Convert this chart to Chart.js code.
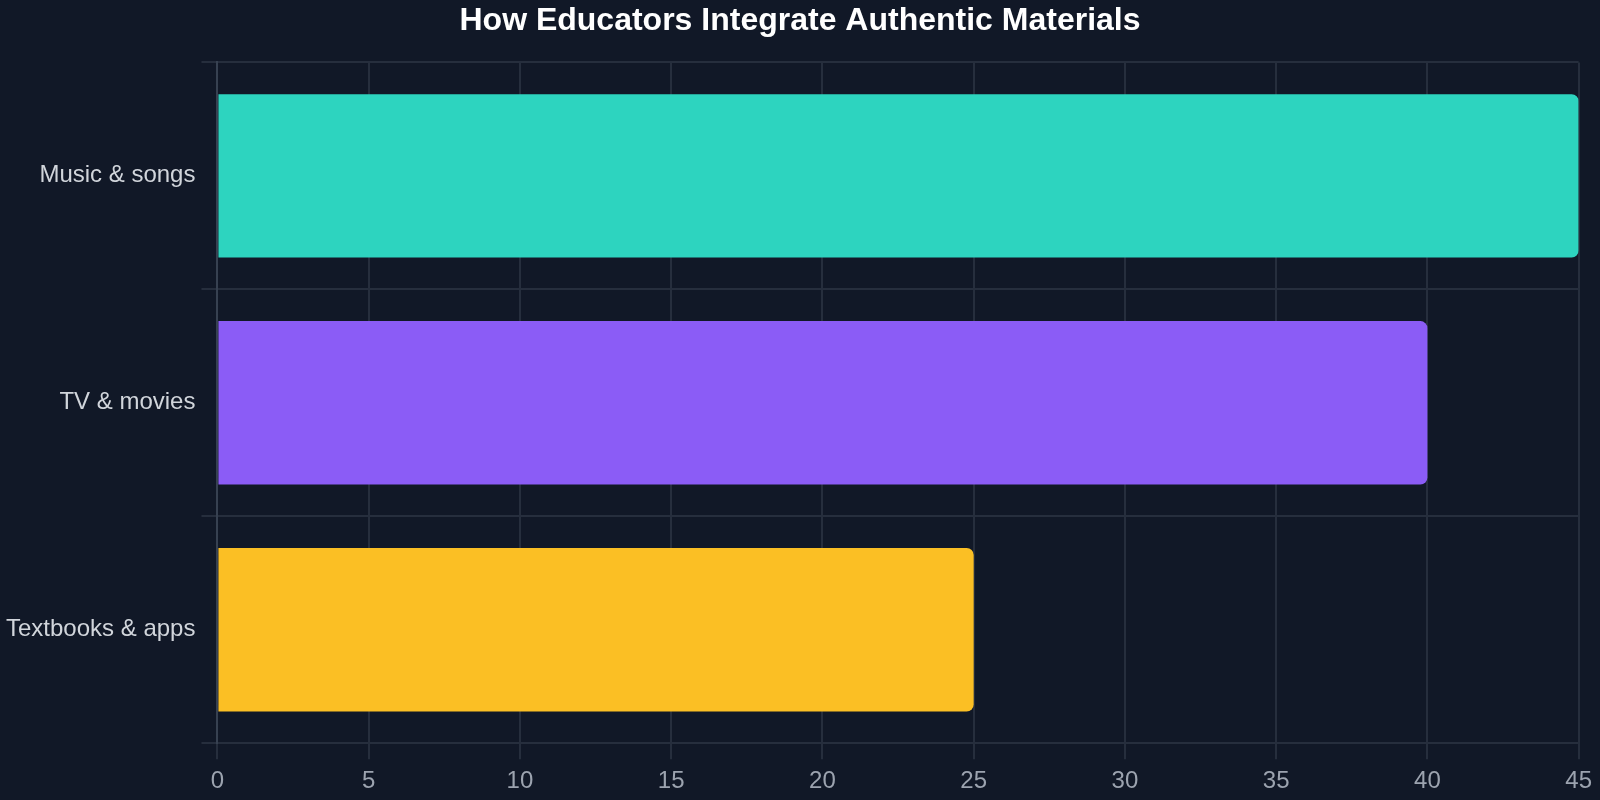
<!DOCTYPE html>
<html>
<head>
<meta charset="utf-8">
<script src="https://cdn.jsdelivr.net/npm/chart.js@4"></script>
<style>
  html, body { margin:0; padding:0; background:#111827; }
  #wrap { width:1600px; height:800px; }
</style>
</head>
<body>
<div id="wrap"><canvas id="c"></canvas></div>
<script>
const categories = ["Music & songs", "TV & movies", "Textbooks & apps"];
const values = [45, 40, 25];
const barColors = ["#2dd4bf", "#8b5cf6", "#fbbf24"];
const xTicks = [0, 5, 10, 15, 20, 25, 30, 35, 40, 45];
const titleText = "How Educators Integrate Authentic Materials";

Chart.defaults.font.family = "'Liberation Sans', Arial, sans-serif";

const centerTitle = {
  id: 'centerTitle',
  afterLayout(chart) {
    const t = chart.titleBlock;
    if (t) { t.left = 0; t.right = chart.width; t.width = chart.width; }
  }
};

new Chart(document.getElementById('c'), {
  type: 'bar',
  data: {
    labels: categories,
    datasets: [{
      data: values,
      backgroundColor: barColors,
      borderColor: barColors,
      borderWidth: 0,
      borderRadius: 7,
      borderSkipped: 'start'
    }]
  },
  plugins: [centerTitle],
  options: {
    indexAxis: 'y',
    responsive: true,
    maintainAspectRatio: false,
    animation: false,
    devicePixelRatio: 1,
    layout: { padding: { top: 0, left: 0, right: 10, bottom: -4 } },
    plugins: {
      legend: { display: false },
      tooltip: { enabled: false },
      title: {
        display: true,
        text: titleText,
        color: '#ffffff',
        font: { size: 32, weight: 'bold' },
        padding: { top: 2, bottom: 22 }
      }
    },
    scales: {
      x: {
        min: 0,
        max: 45,
        afterBuildTicks: (axis) => { axis.ticks = xTicks.map(v => ({ value: v })); },
        ticks: { color: '#9ca3af', font: { size: 24 }, padding: 8 },
        grid: { color: '#262e3d', lineWidth: 2, tickLength: 16 },
        border: { color: '#262e3d', width: 2 }
      },
      y: {
        ticks: { color: '#d1d5db', font: { size: 24 }, padding: 6 },
        grid: { color: '#262e3d', lineWidth: 2, tickLength: 16 },
        border: { color: '#374151', width: 2 }
      }
    }
  }
});
</script>
</body>
</html>
